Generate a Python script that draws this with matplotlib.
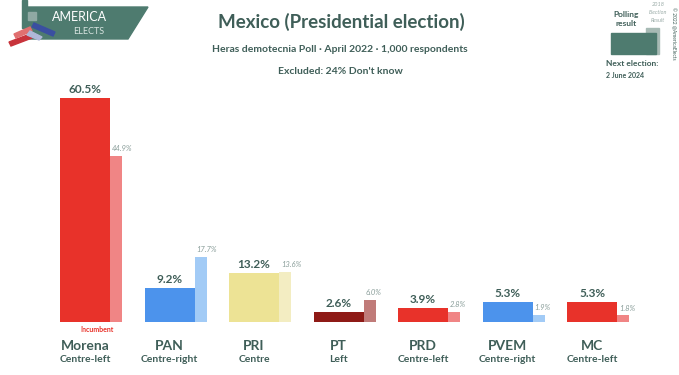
import matplotlib.pyplot as plt
import matplotlib.patches as mpatches
import numpy as np

parties = ['Morena', 'PAN', 'PRI', 'PT', 'PRD', 'PVEM', 'MC']
leanings = ['Centre-left', 'Centre-right', 'Centre', 'Left', 'Centre-left', 'Centre-right', 'Centre-left']
poll = [60.5, 9.2, 13.2, 2.6, 3.9, 5.3, 5.3]
prev = [44.9, 17.7, 13.6, 6.0, 2.8, 1.9, 1.8]
main_colors = ['#E8322A', '#4C93EC', '#EDE395', '#8E1A16', '#E8322A', '#4C93EC', '#E8322A']
prev_colors = ['#F08585', '#A2CBF6', '#F3EDC2', '#C07B79', '#F08585', '#A2CBF6', '#F08585']

TXT = '#3F5E58'
GREEN = '#4E7B6F'
plt.rcParams['font.family'] = ['Lato', 'DejaVu Sans']

W, H = 679, 375
fig = plt.figure(figsize=(W / 100, H / 100), dpi=100)

# overlay axes in pixel coords for decorations
bg = fig.add_axes([0, 0, 1, 1])
bg.set_xlim(0, W)
bg.set_ylim(H, 0)
bg.axis('off')

# bar axes: baseline at y=322 px, 3.70 px per percent
base_px = 322
px_per = 3.70
ax = fig.add_axes([0, 1 - base_px / H, 1, base_px / H])
ax.set_xlim(0, W)
ax.set_ylim(0, base_px / px_per)
ax.axis('off')

x0 = 60
step = 84.5
mw, pw = 50, 12
x = x0 + np.arange(len(parties)) * step
ax.bar(x, poll, width=mw, align='edge', color=main_colors, zorder=2)
ax.bar(x + mw, prev, width=pw, align='edge', color=prev_colors, zorder=1)

for i in range(len(parties)):
    ax.text(x[i] + mw / 2, poll[i] + 0.8, f'{poll[i]:.1f}%', ha='center', va='bottom',
            fontsize=8.5, fontweight='bold', color=TXT)
    ax.text(x[i] + mw + 2, prev[i] + 1.0, f'{prev[i]:.1f}%', ha='left', va='bottom',
            fontsize=5.5, style='italic', color='#8A9E9A')
    bg.text(x[i] + mw / 2, 346, parties[i], ha='center', va='center', fontsize=10,
            fontweight='bold', color=TXT)
    bg.text(x[i] + mw / 2, 360, leanings[i], ha='center', va='center', fontsize=7.5,
            fontweight='bold', color=TXT)

bg.text(97, 330, 'Incumbent', ha='center', va='center', fontsize=5, fontweight='bold', color='#E8322A')

# titles
bg.text(341, 22, 'Mexico (Presidential election)', ha='center', va='center', fontsize=13.5,
        fontweight='bold', color=TXT)
bg.text(340, 50, 'Heras demotecnia Poll · April 2022 · 1,000 respondents', ha='center', va='center',
        fontsize=7.5, fontweight='bold', color=TXT)
bg.text(340, 71, "Excluded: 24% Don't know", ha='center', va='center', fontsize=7.5,
        fontweight='bold', color=TXT)

# logo
bg.add_patch(mpatches.Polygon([[28, 7], [148, 7], [128, 39], [28, 39]], closed=True, color=GREEN))
bg.add_patch(mpatches.Rectangle((22, 0), 5, 28, color=GREEN))
bg.add_patch(mpatches.Rectangle((28, 12), 8, 8, color='#8FA9A3'))
bg.add_patch(mpatches.Polygon([[9, 42], [30, 34], [32, 38], [11, 46]], color='#C8333B'))
bg.add_patch(mpatches.Polygon([[14, 34], [30, 27], [32, 31], [16, 38]], color='#E07070'))
bg.add_patch(mpatches.Polygon([[34, 23], [55, 32], [53, 36], [32, 27]], color='#3A4FA0'))
bg.add_patch(mpatches.Polygon([[30, 31], [42, 37], [39, 40], [27, 35]], color='#B0B8D8'))
bg.text(80, 17, 'AMERICA', ha='center', va='center', fontsize=9, color='white')
bg.text(89, 32, 'ELECTS', ha='center', va='center', fontsize=6.5, color='#D8E4E0')

# legend
bg.add_patch(mpatches.Rectangle((646, 28), 13, 26, color='#A7BAB4'))
bg.add_patch(mpatches.Rectangle((611, 33), 45, 21, color=GREEN))
bg.text(626, 14, 'Polling', ha='center', va='center', fontsize=6, fontweight='bold', color=TXT)
bg.text(626, 23, 'result', ha='center', va='center', fontsize=6, fontweight='bold', color=TXT)
bg.text(658, 5, '2018', ha='center', va='center', fontsize=4, style='italic', color='#9AABA7')
bg.text(658, 12, 'Election', ha='center', va='center', fontsize=4, style='italic', color='#9AABA7')
bg.text(658, 20, 'Result', ha='center', va='center', fontsize=4, style='italic', color='#9AABA7')
bg.text(606, 64, 'Next election:', ha='left', va='center', fontsize=6, fontweight='bold', color=TXT)
bg.text(606, 75, '2 June 2024', ha='left', va='center', fontsize=5, fontweight='bold', color=TXT)
bg.text(673, 33, '© 2022 @AmericaElects', ha='center', va='center', fontsize=3.5, rotation=270, color=TXT)

fig.savefig('out.png', dpi=100)
